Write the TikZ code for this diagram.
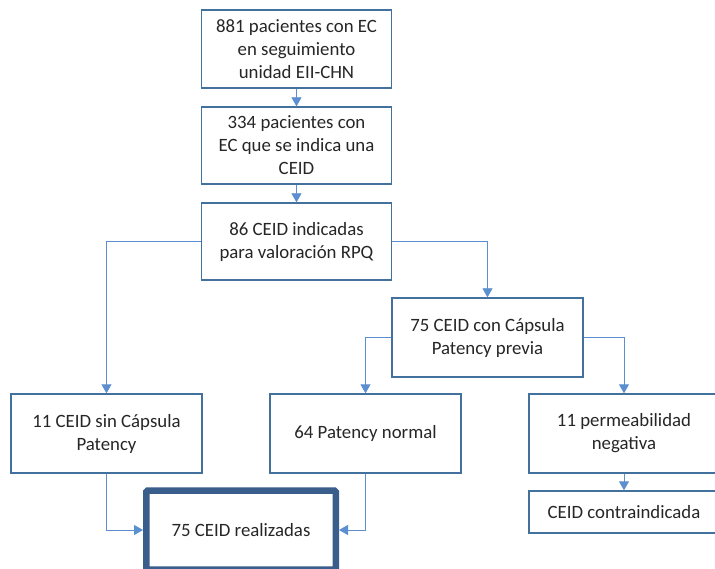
\documentclass[tikz,border=0pt]{standalone}
\usepackage{fontspec}
\setmainfont{Carlito}
\usetikzlibrary{arrows.meta}
\definecolor{boxc}{HTML}{41719C}
\definecolor{thickc}{HTML}{3A5E8C}
\definecolor{connc}{HTML}{5B8FD0}
\tikzset{
  box/.style={draw=boxc, line width=1.4pt, fill=white, align=center, inner sep=0pt,
    font=\fontsize{18.8pt}{23pt}\selectfont, text=black!85},
  conn/.style={draw=connc, line width=0.9pt, -{Triangle[width=10pt,length=9pt]}},
  line/.style={draw=connc, line width=0.9pt}
}
\begin{document}
\begin{tikzpicture}[x=1pt,y=-1pt]
\useasboundingbox (0,0) rectangle (715,569);
\clip (0,0) rectangle (715,569);
\fill[white] (0,0) rectangle (715,569);
\node[box, minimum width=190pt, minimum height=78pt] (b1) at (296.5,49) {881 pacientes con EC\\en seguimiento\\unidad EII-CHN};
\node[box, minimum width=190pt, minimum height=77pt] (b2) at (296.5,145.5) {334 pacientes con\\EC que se indica una\\CEID};
\node[box, minimum width=190pt, minimum height=77pt] (b3) at (296.5,241.5) {86 CEID indicadas\\para valoración RPQ};
\node[box, minimum width=191pt, minimum height=79pt] (b4) at (487.5,337.5) {75 CEID con Cápsula\\Patency previa};
\node[box, minimum width=191pt, minimum height=79pt] (b5) at (106.5,433.5) {11 CEID sin Cápsula\\Patency};
\node[box, minimum width=191pt, minimum height=79pt] (b6) at (365.5,433.5) {64 Patency normal};
\node[box, minimum width=190pt, minimum height=79pt] (b7) at (624,433.5) {11 permeabilidad\\negativa};
\node[box, minimum width=190pt, minimum height=42pt] (b8) at (624,512) {CEID contraindicada};
\node[box, draw=thickc, line width=6.5pt, rounded corners=1.5pt, minimum width=189.5pt, minimum height=79pt] (b9) at (241,530) {75 CEID realizadas};
\draw[conn] (b1.south) -- (b2.north);
\draw[conn] (b2.south) -- (b3.north);
\draw[conn] (b3.west) -| (b5.north);
\draw[conn] (b3.east) -| (b4.north);
\draw[conn] (b4.west) -| (b6.north);
\draw[conn] (b4.east) -| (b7.north);
\draw[conn] (b7.south) -- (b8.north);
\draw[conn] (b5.south) |- (b9.west);
\draw[conn] (b6.south) |- (b9.east);
\end{tikzpicture}
\end{document}
